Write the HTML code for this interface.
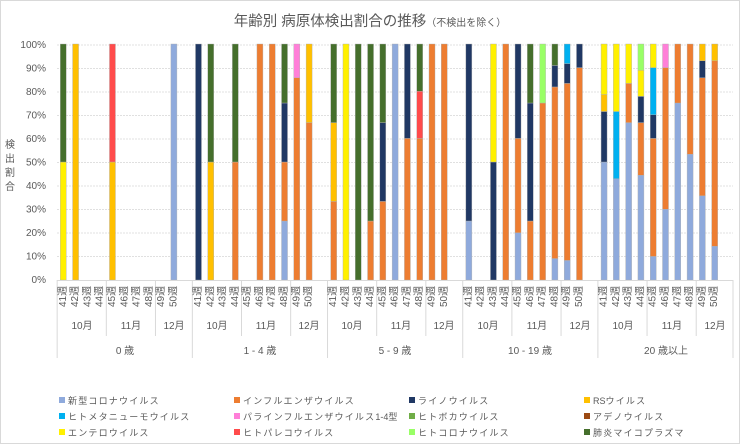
<!DOCTYPE html>
<html><head><meta charset="utf-8"><style>
body{margin:0;background:#fff;}
svg{display:block;font-family:"Liberation Sans","Noto Sans CJK JP",sans-serif;}
.t{font-size:10px;fill:#595959;}
.lg{font-size:9px;fill:#595959;letter-spacing:1.2px;}
</style></head><body>
<svg id="c" width="740" height="444" viewBox="0 0 740 444" xmlns="http://www.w3.org/2000/svg">
<rect x="0.5" y="0.5" width="739" height="443" fill="#fff" stroke="#d9d9d9"/>
<text x="370" y="26" text-anchor="middle" font-size="14.5" fill="#595959">年齢別 病原体検出割合の推移<tspan font-size="10">（不検出を除く）</tspan></text>
<g id="grid" stroke="#e0e0e0" stroke-width="1" stroke-dasharray="2,1"></g>
<g class="t" text-anchor="end">
<text x="46" y="48">100%</text><text x="46" y="71.5">90%</text><text x="46" y="95">80%</text><text x="46" y="118.5">70%</text><text x="46" y="142">60%</text><text x="46" y="165.5">50%</text><text x="46" y="189">40%</text><text x="46" y="212.5">30%</text><text x="46" y="236">20%</text><text x="46" y="259.5">10%</text><text x="46" y="283">0%</text>
</g>
<g class="t" text-anchor="middle">
<text x="10" y="148">検</text><text x="10" y="162">出</text><text x="10" y="176">割</text><text x="10" y="190">合</text>
</g>
<g id="bars"></g>
<g id="lines" stroke="#d9d9d9" stroke-width="1"></g>
<g class="t" text-anchor="middle">
<text x="82" y="329">10月</text><text x="131" y="329">11月</text><text x="174" y="329">12月</text>
<text x="217" y="329">10月</text><text x="266" y="329">11月</text><text x="309" y="329">12月</text>
<text x="352" y="329">10月</text><text x="401" y="329">11月</text><text x="444" y="329">12月</text>
<text x="488" y="329">10月</text><text x="537" y="329">11月</text><text x="580" y="329">12月</text>
<text x="623" y="329">10月</text><text x="672" y="329">11月</text><text x="715" y="329">12月</text>
<text x="125" y="354">0 歳</text><text x="260" y="354">1 - 4 歳</text><text x="395" y="354">5 - 9 歳</text><text x="530" y="354">10 - 19 歳</text><text x="666" y="354">20 歳以上</text>
</g>
<g class="lg">
<rect x="59" y="397" width="6" height="6" fill="#8FAADC"/><text x="68" y="404">新型コロナウイルス</text>
<rect x="234" y="397" width="6" height="6" fill="#ED7D31"/><text x="243" y="404">インフルエンザウイルス</text>
<rect x="409" y="397" width="6" height="6" fill="#203864"/><text x="418" y="404">ライノウイルス</text>
<rect x="584" y="397" width="6" height="6" fill="#FFC000"/><text x="593" y="404" letter-spacing="0">RS<tspan letter-spacing="1.2">ウイルス</tspan></text>
<rect x="59" y="413" width="6" height="6" fill="#00B0F0"/><text x="68" y="420">ヒトメタニューモウイルス</text>
<rect x="234" y="413" width="6" height="6" fill="#FF7FD8"/><text x="243" y="420">パラインフルエンザウイルス<tspan letter-spacing="0">1-4型</tspan></text>
<rect x="409" y="413" width="6" height="6" fill="#70AD47"/><text x="418" y="420">ヒトボカウイルス</text>
<rect x="584" y="413" width="6" height="6" fill="#9C4A12"/><text x="593" y="420">アデノウイルス</text>
<rect x="59" y="429" width="6" height="6" fill="#FFF000"/><text x="68" y="436">エンテロウイルス</text>
<rect x="234" y="429" width="6" height="6" fill="#FF4B4B"/><text x="243" y="436">ヒトパレコウイルス</text>
<rect x="409" y="429" width="6" height="6" fill="#99FF66"/><text x="418" y="436">ヒトコロナウイルス</text>
<rect x="584" y="429" width="6" height="6" fill="#456F2C"/><text x="593" y="436">肺炎マイコプラズマ</text>
</g>
</svg>
<script>
(function(){
var NS="http://www.w3.org/2000/svg";
var C={c:"#8FAADC",f:"#ED7D31",r:"#203864",R:"#FFC000",h:"#00B0F0",p:"#FF7FD8",y:"#FFF000",x:"#FF4B4B",l:"#99FF66",g:"#456F2C"};
var D=[
[[["y",50],["g",50]],[["R",100]],[],[],[["R",50],["x",50]],[],[],[],[],[["c",100]]],
[[["r",100]],[["R",50],["g",50]],[],[["f",50],["g",50]],[],[["f",100]],[["f",100]],[["c",25],["f",25],["r",25],["g",25]],[["f",85.7],["p",14.3]],[["f",66.7],["R",33.3]]],
[[["f",33.3],["R",33.4],["g",33.3]],[["y",100]],[["g",100]],[["f",25],["g",75]],[["f",33.3],["r",33.4],["g",33.3]],[["c",100]],[["f",60],["r",40]],[["f",60],["x",20],["g",20]],[["f",100]],[["f",100]]],
[[["c",25],["r",75]],[],[["r",50],["y",50]],[["f",100]],[["c",20],["f",40],["r",40]],[["f",25],["r",50],["g",25]],[["f",75],["l",25]],[["c",9.1],["f",72.7],["r",9.1],["g",9.1]],[["c",8.3],["f",75],["r",8.4],["h",8.3]],[["f",90],["r",10]]],
[[["c",50],["r",21.4],["R",7.2],["y",21.4]],[["c",42.9],["h",28.5],["y",28.6]],[["c",66.7],["f",16.6],["y",16.7]],[["c",44.4],["f",22.3],["r",11.1],["y",11.1],["l",11.1]],[["c",10],["f",50],["r",10],["h",20],["y",10]],[["c",30],["f",60],["p",10]],[["c",75],["f",25]],[["c",53.3],["f",46.7]],[["c",35.7],["f",50],["r",7.2],["R",7.1]],[["c",14.3],["f",78.6],["R",7.1]]]
];
var P=12.29,X0=63.3,Y0=280,S=2.36;
var bars=document.getElementById("bars"),grid=document.getElementById("grid"),lines=document.getElementById("lines");
function el(p,t,a){var e=document.createElementNS(NS,t);for(var k in a)e.setAttribute(k,a[k]);p.appendChild(e);return e;}
for(var i=1;i<=10;i++){var yy=Y0-i*23.5;el(grid,"line",{x1:57,x2:733,y1:yy,y2:yy});}
el(lines,"line",{x1:57,x2:733,y1:280.5,y2:280.5});
for(var g=0;g<5;g++){
 var L=X0-6.15+P*11*g;
 el(lines,"line",{x1:L,x2:L,y1:280,y2:358});
 [4,8].forEach(function(k){var xx=L+P*k;el(lines,"line",{x1:xx,x2:xx,y1:280,y2:336});});
 for(var k=0;k<10;k++){
  var cx=X0+P*(11*g+k),y=Y0;
  D[g][k].forEach(function(s){var h=s[1]*S;el(bars,"rect",{x:cx-3,y:y-h,width:6,height:h,fill:C[s[0]],stroke:"#b0b0b0","stroke-width":0.4});y-=h;});
 }
}
el(lines,"line",{x1:733,x2:733,y1:280,y2:358});
})();
</script>
<svg id="wk" width="740" height="444" style="position:absolute;left:0;top:0;font-family:'Liberation Sans','Noto Sans CJK JP',sans-serif;font-size:10px;fill:#595959">
<g transform="translate(63.3,0)">
<text transform="translate(0,307) rotate(-90)" dominant-baseline="central">41週</text>
<text transform="translate(12.29,307) rotate(-90)" dominant-baseline="central">42週</text>
<text transform="translate(24.58,307) rotate(-90)" dominant-baseline="central">43週</text>
<text transform="translate(36.87,307) rotate(-90)" dominant-baseline="central">44週</text>
<text transform="translate(49.16,307) rotate(-90)" dominant-baseline="central">45週</text>
<text transform="translate(61.45,307) rotate(-90)" dominant-baseline="central">46週</text>
<text transform="translate(73.74,307) rotate(-90)" dominant-baseline="central">47週</text>
<text transform="translate(86.03,307) rotate(-90)" dominant-baseline="central">48週</text>
<text transform="translate(98.32,307) rotate(-90)" dominant-baseline="central">49週</text>
<text transform="translate(110.61,307) rotate(-90)" dominant-baseline="central">50週</text>
</g>
<g transform="translate(198.49,0)">
<text transform="translate(0,307) rotate(-90)" dominant-baseline="central">41週</text>
<text transform="translate(12.29,307) rotate(-90)" dominant-baseline="central">42週</text>
<text transform="translate(24.58,307) rotate(-90)" dominant-baseline="central">43週</text>
<text transform="translate(36.87,307) rotate(-90)" dominant-baseline="central">44週</text>
<text transform="translate(49.16,307) rotate(-90)" dominant-baseline="central">45週</text>
<text transform="translate(61.45,307) rotate(-90)" dominant-baseline="central">46週</text>
<text transform="translate(73.74,307) rotate(-90)" dominant-baseline="central">47週</text>
<text transform="translate(86.03,307) rotate(-90)" dominant-baseline="central">48週</text>
<text transform="translate(98.32,307) rotate(-90)" dominant-baseline="central">49週</text>
<text transform="translate(110.61,307) rotate(-90)" dominant-baseline="central">50週</text>
</g>
<g transform="translate(333.68,0)">
<text transform="translate(0,307) rotate(-90)" dominant-baseline="central">41週</text>
<text transform="translate(12.29,307) rotate(-90)" dominant-baseline="central">42週</text>
<text transform="translate(24.58,307) rotate(-90)" dominant-baseline="central">43週</text>
<text transform="translate(36.87,307) rotate(-90)" dominant-baseline="central">44週</text>
<text transform="translate(49.16,307) rotate(-90)" dominant-baseline="central">45週</text>
<text transform="translate(61.45,307) rotate(-90)" dominant-baseline="central">46週</text>
<text transform="translate(73.74,307) rotate(-90)" dominant-baseline="central">47週</text>
<text transform="translate(86.03,307) rotate(-90)" dominant-baseline="central">48週</text>
<text transform="translate(98.32,307) rotate(-90)" dominant-baseline="central">49週</text>
<text transform="translate(110.61,307) rotate(-90)" dominant-baseline="central">50週</text>
</g>
<g transform="translate(468.87,0)">
<text transform="translate(0,307) rotate(-90)" dominant-baseline="central">41週</text>
<text transform="translate(12.29,307) rotate(-90)" dominant-baseline="central">42週</text>
<text transform="translate(24.58,307) rotate(-90)" dominant-baseline="central">43週</text>
<text transform="translate(36.87,307) rotate(-90)" dominant-baseline="central">44週</text>
<text transform="translate(49.16,307) rotate(-90)" dominant-baseline="central">45週</text>
<text transform="translate(61.45,307) rotate(-90)" dominant-baseline="central">46週</text>
<text transform="translate(73.74,307) rotate(-90)" dominant-baseline="central">47週</text>
<text transform="translate(86.03,307) rotate(-90)" dominant-baseline="central">48週</text>
<text transform="translate(98.32,307) rotate(-90)" dominant-baseline="central">49週</text>
<text transform="translate(110.61,307) rotate(-90)" dominant-baseline="central">50週</text>
</g>
<g transform="translate(604.06,0)">
<text transform="translate(0,307) rotate(-90)" dominant-baseline="central">41週</text>
<text transform="translate(12.29,307) rotate(-90)" dominant-baseline="central">42週</text>
<text transform="translate(24.58,307) rotate(-90)" dominant-baseline="central">43週</text>
<text transform="translate(36.87,307) rotate(-90)" dominant-baseline="central">44週</text>
<text transform="translate(49.16,307) rotate(-90)" dominant-baseline="central">45週</text>
<text transform="translate(61.45,307) rotate(-90)" dominant-baseline="central">46週</text>
<text transform="translate(73.74,307) rotate(-90)" dominant-baseline="central">47週</text>
<text transform="translate(86.03,307) rotate(-90)" dominant-baseline="central">48週</text>
<text transform="translate(98.32,307) rotate(-90)" dominant-baseline="central">49週</text>
<text transform="translate(110.61,307) rotate(-90)" dominant-baseline="central">50週</text>
</g>
</svg>
</body></html>
